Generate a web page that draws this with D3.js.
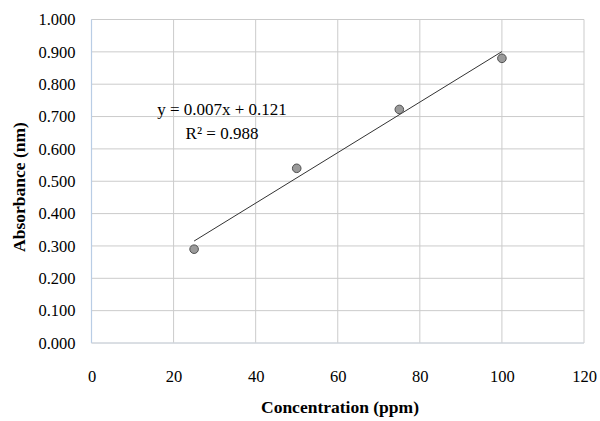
<!DOCTYPE html>
<html>
<head>
<meta charset="utf-8">
<script src="https://cdn.jsdelivr.net/npm/d3@7"></script>
</head>
<body style="margin:0; background:#fff">
<svg id="chart" width="600" height="421" font-family="Liberation Serif" font-size="16.5"></svg>
<script>
// data
const concentration = [25, 50, 75, 100];
const absorbance = [0.290, 0.540, 0.722, 0.880];
const xTicks = [0, 20, 40, 60, 80, 100, 120];
const yTicks = [0, 0.1, 0.2, 0.3, 0.4, 0.5, 0.6, 0.7, 0.8, 0.9, 1.0];
const equationLines = ["y = 0.007x + 0.121", "R\u00B2 = 0.988"];

const svg = d3.select("#chart");
const margin = {left: 91.5, right: 16, top: 19.5, bottom: 78};
const width = 600 - margin.left - margin.right;
const height = 421 - margin.top - margin.bottom;

const x = d3.scaleLinear().domain([0, 120]).range([0, width]);
const y = d3.scaleLinear().domain([0, 1]).range([height, 0]);

const g = svg.append("g").attr("transform", `translate(${margin.left},${margin.top})`);

// grid
g.selectAll(".hgrid").data(yTicks).enter().append("line")
  .attr("x1", 0).attr("x2", width)
  .attr("y1", d => y(d)).attr("y2", d => y(d))
  .attr("stroke", "#cbcbcb").attr("stroke-width", 1);
g.selectAll(".vgrid").data(xTicks).enter().append("line")
  .attr("x1", d => x(d)).attr("x2", d => x(d))
  .attr("y1", 0).attr("y2", height)
  .attr("stroke", "#cbcbcb").attr("stroke-width", 1);

// axis lines
g.append("line").attr("x1", 0).attr("x2", 0).attr("y1", 0).attr("y2", height)
  .attr("stroke", "#b9cde5").attr("stroke-width", 1.2);
g.append("line").attr("x1", 0).attr("x2", width).attr("y1", height).attr("y2", height)
  .attr("stroke", "#d0d8e2").attr("stroke-width", 1);

// tick labels, axis font attributes taken off so the svg ones apply
const yAxis = d3.axisLeft(y).tickValues(yTicks).tickFormat(d3.format(".3f")).tickSize(0).tickPadding(16);
const ya = g.append("g").call(yAxis).attr("font-family", null).attr("font-size", null);
ya.select(".domain").remove();

const xAxis = d3.axisBottom(x).tickValues(xTicks).tickFormat(d3.format("d")).tickSize(0).tickPadding(27);
const xa = g.append("g").attr("transform", `translate(0,${height})`).call(xAxis)
  .attr("font-family", null).attr("font-size", null);
xa.select(".domain").remove();

// linear trendline (least squares)
const mx = d3.mean(concentration), my = d3.mean(absorbance);
let sxy = 0, sxx = 0;
concentration.forEach((c, i) => { sxy += (c - mx) * (absorbance[i] - my); sxx += (c - mx) * (c - mx); });
const slope = sxy / sxx, intercept = my - slope * mx;
const xMin = d3.min(concentration), xMax = d3.max(concentration);
g.append("line")
  .attr("x1", x(xMin)).attr("y1", y(intercept + slope * xMin))
  .attr("x2", x(xMax)).attr("y2", y(intercept + slope * xMax))
  .attr("stroke", "#333").attr("stroke-width", 1);

// points
g.selectAll(".pt").data(concentration).enter().append("circle")
  .attr("cx", d => x(d)).attr("cy", (d, i) => y(absorbance[i]))
  .attr("r", 4.3)
  .attr("fill", "#9a9a9a").attr("stroke", "#505050").attr("stroke-width", 1);

// equation
svg.append("text").attr("x", 222).attr("y", 115).attr("text-anchor", "middle")
  .attr("font-size", 17).text(equationLines[0]);
svg.append("text").attr("x", 222).attr("y", 139).attr("text-anchor", "middle")
  .attr("font-size", 17).text(equationLines[1]);

// axis titles
svg.append("text").attr("x", 340).attr("y", 413).attr("text-anchor", "middle")
  .attr("font-size", 17.5).attr("font-weight", "bold").text("Concentration (ppm)");
svg.append("text").attr("transform", "translate(25,187) rotate(-90)").attr("text-anchor", "middle")
  .attr("font-size", 17.5).attr("font-weight", "bold").text("Absorbance (nm)");

svg.selectAll("text").attr("fill", "#000");
</script>
</body>
</html>
